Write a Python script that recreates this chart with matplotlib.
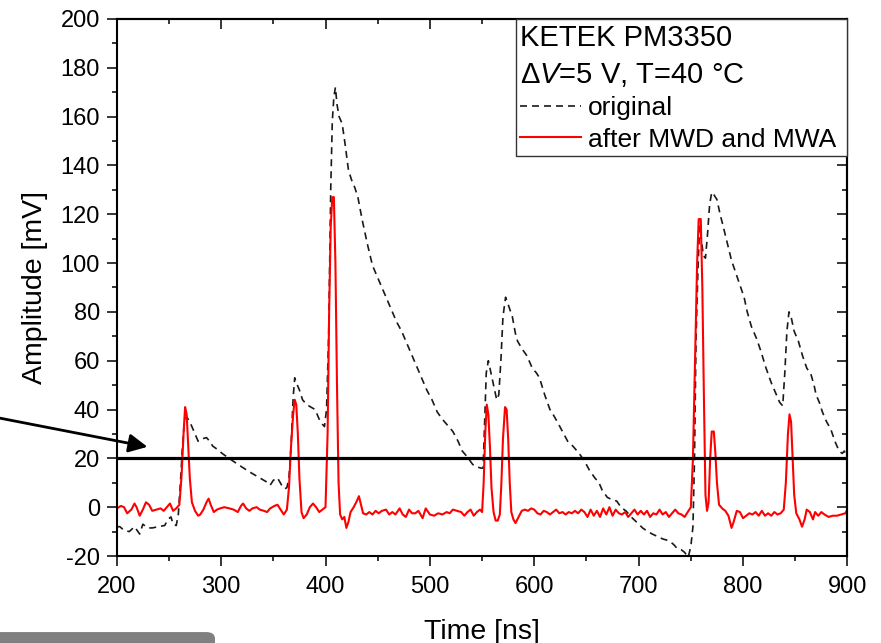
import matplotlib
matplotlib.use("Agg")
import matplotlib.pyplot as plt
from matplotlib.ticker import MultipleLocator
from matplotlib.patches import FancyBboxPatch

plt.rcParams["font.family"] = ["Liberation Sans", "DejaVu Sans"]
plt.rcParams["mathtext.fontset"] = "custom"
plt.rcParams["mathtext.rm"] = "Liberation Sans"
plt.rcParams["mathtext.it"] = "Liberation Sans:italic"
plt.rcParams["axes.unicode_minus"] = False

# --- data ------------------------------------------------------------------
# original signal (dashed black)
t_orig = [200, 203, 207, 212, 217, 222, 225, 230, 234, 240, 246, 249, 252, 254, 257,
          259, 261, 263, 265, 267, 270, 274, 278, 282, 286, 289, 292, 297, 301, 306,
          311, 318, 327, 335, 343, 347, 350, 354, 358, 361, 363, 365, 367, 369, 370.5,
          372, 375, 378, 382, 386, 390, 394, 397, 399, 401, 403, 405, 406.5, 408,
          409.5, 411, 413, 416, 419, 422, 425, 428, 431, 435, 440, 445, 449, 454, 459,
          464, 468, 473, 478, 483, 488, 493, 497, 502, 507, 512, 517, 522, 527, 531,
          536, 541, 545, 549, 551, 552.5, 554, 556, 558, 561, 564, 566, 568, 570,
          572.5, 575, 579, 582, 584, 588, 593, 598, 602, 605, 610, 615, 618, 622, 627,
          632, 637, 643, 648, 653, 658, 662, 665, 670, 675, 679, 683, 688, 694, 699,
          704, 709, 713, 718, 723, 727, 730, 734, 737, 741, 744, 747.5, 750, 752,
          753.5, 755, 757, 758.5, 760, 762, 764, 766, 768, 770, 772, 775, 778, 781,
          785, 789, 793, 797, 801, 804, 808, 813, 817, 822, 827, 832, 835, 838, 840,
          842, 844, 846, 849, 853, 857, 861, 865, 868, 870, 873, 876, 880, 884, 888,
          892, 895, 897, 900]
v_orig = [-8, -8, -9.5, -10, -8, -11, -7, -8.5, -8.5, -8, -7.5, -5, -4, -7, -7.5,
          -3, 10, 25, 36, 37, 35, 31, 27, 28, 28.5, 27, 25, 23.5, 22, 20.5,
          19, 17, 14.5, 12.5, 10.5, 9, 11, 12, 9, 7.5, 8, 12, 25, 45, 53,
          51, 48, 44, 42, 41, 40, 36, 34, 33, 40, 70, 130, 158, 168,
          172, 165, 160, 157, 148, 138, 134, 131, 127, 118, 108, 99, 95, 90, 85,
          80, 76, 72, 67, 62, 57, 52, 48, 44, 39, 36, 33.5, 31, 27, 23,
          20.5, 17.5, 16.5, 16, 16, 35, 55, 60, 56, 50, 44, 46, 60, 78,
          86, 83, 78, 71, 68, 65, 62, 57, 55, 53, 46, 40, 38, 35, 31,
          27, 25, 22, 19, 15, 12, 10, 7, 4, 3, 2.5, 0, -1.6, -4.5, -6.5,
          -8.6, -10, -11, -12, -13, -13.5, -14, -15.5, -17, -17.5, -18.5, -20.5, -16, -8,
          20, 70, 100, 115, 110, 103, 102, 112, 124, 129, 128, 126, 120, 115,
          108, 101, 96, 91, 86, 80, 74, 69, 64, 57, 51, 46, 43, 41.5, 55,
          72, 80, 78, 72, 68, 62, 57, 54.5, 50, 46, 43, 39, 35, 32, 27,
          23, 22, 23, 20]

# after MWD and MWA (solid red)
t_mwd = [200, 204, 207, 210, 214, 217, 219, 222, 225, 228, 231, 234, 238, 242, 245,
         248, 251, 254, 257, 260, 262, 264, 265.5, 267, 268.5, 270, 272, 275, 278,
         280, 283, 286, 288, 290, 293, 296, 299, 303, 308, 312, 316, 319, 321, 324,
         327, 330, 334, 337, 341, 344, 347, 351, 354, 357, 360, 363, 365, 367, 369,
         370.5, 372, 373.5, 375, 377, 379, 382, 385, 388, 391, 394, 397, 400, 402,
         403.5, 405, 406.5, 408, 409.5, 411, 412.5, 414, 416, 418, 420, 422, 424,
         427, 430, 432, 434, 436, 439, 442, 445, 448, 451, 454, 458, 461, 464, 467,
         471, 474, 477, 480, 483, 486, 489, 493, 496, 500, 504, 508, 512, 516, 519,
         522, 526, 530, 533, 536, 539, 542, 545, 548, 550, 551.5, 553, 554.5, 556,
         557.5, 559, 561, 563, 565, 567, 568.5, 570, 572, 573.5, 575, 576.5, 578,
         580, 582, 585, 588, 591, 594, 597, 600, 603, 606, 609, 612, 615, 618, 621,
         624, 627, 630, 633, 636, 639, 642, 645, 648, 651, 654, 657, 660, 663, 666,
         669, 672, 675, 678, 681, 684, 687, 690, 693, 696, 699, 702, 705, 708, 711,
         714, 717, 720, 723, 726, 729, 732, 735, 738, 741, 744, 747, 750, 752, 754,
         756, 757.5, 759.5, 761, 762.5, 764, 765.5, 767, 768.5, 770, 772, 773.5, 775,
         777, 780, 783, 786, 789, 791, 794, 797, 800, 803, 806, 809, 812, 815, 818,
         821, 824, 827, 830, 833, 836, 839, 841, 843, 844.5, 846, 847.5, 849, 851,
         854, 856.5, 859, 861, 864, 867, 869, 872, 875, 878, 882, 886, 890, 894, 898,
         900]
v_mwd = [-0.5, 0.5, 0, -2.5, -1, 1.5, 0, -3.5, -1, 2, 1, -1.5, -1, -0.5, -1.5,
         0, 1.5, -1.5, -0.5, 1, 12, 30, 41, 38, 25, 12, 2, -1.5, -3.5,
         -3, -1, 2, 3.5, 1, -2, -1, -0.5, 0, -0.5, -1, -2, 0.5, 1.5, -0.5,
         -1.5, -0.5, 0, -1, -1.5, -2, -0.5, 0.5, 1, -1, -3, -1, 8, 25, 38,
         44, 42, 30, 12, -2, -4.5, -3, 0, 1.5, 0, -2, -1, 0, 30,
         80, 115, 127, 127, 100, 50, 10, -3, -5, -4, -8.5, -6, -2,
         0, 2.5, 4.5, 1, -2.5, -3, -2, -3, -1.5, -2.5, -1.5, -1, -3, -2, -3,
         -0.5, -3, -4, -1, -2.5, -2.5, -1.5, -4.5, -0.5, -3, -3.5, -2.5, -3, -2, -2.5,
         -1, -1.5, -2, -3.5, -2, -1, -3.5, -2, -1, -2, 10, 30, 42, 38,
         25, 8, -2, -5.5, -5.5, -3, 10, 28, 41, 40, 28, 10, -2,
         -5, -6.5, -4, -1.5, -1, -1.5, -0.5, -1, -2.5, -3, -1.5, -2, -3, -2, -1,
         -2.5, -2, -3, -2, -2.5, -1.5, -2.5, -1, -2, -4, -1, -3.5, -1.5, -4, -0.5,
         -3, 0, -3.5, -1, -2.5, -3, -2, -4, -2.5, -1, -3, -1.5, -3, -1.5, -4,
         -2.5, -3, -1, -3, -2, -4, -2.5, -1, -2.5, -3, -4, -2, 0, 20, 60,
         100, 118, 118, 90, 45, 5, -1.5, 2, 20, 31, 31, 22, 10,
         1, -0.5, -1.5, -3.5, -8.5, -6, -1.5, -2, -4.5, -3.5, -2.5, -3, -2, -3.5, -1.5,
         -3.5, -2.5, -3.5, -2, -3, -2.5, -1, 10, 30, 38, 35, 20, 5, -2.5,
         -5, -8, -5, -1, -2, -5, -2, -3.5, -2, -3, -4, -3.5, -3.5, -3, -2.5,
         -1]

threshold = 20
legend_title = "KETEK PM3350\nΔ$V$=5 V, T=40 °C"

# --- figure --------------------------------------------------------------------
fig = plt.figure(figsize=(8.81, 6.43), dpi=100)
ax = fig.add_axes([0.1325, 0.1353, 0.8294, 0.8353])

ax.plot(t_orig, v_orig, color="#1a1a1a", lw=1.2, linestyle=(0, (4.2, 3)),
        label="original")
ax.plot(t_mwd, v_mwd, color="#ff0000", lw=1.5, label="after MWD and MWA")
ax.axhline(threshold, color="k", lw=2.3)

ax.set_xlim(200, 900)
ax.set_ylim(-20, 200)
ax.xaxis.set_major_locator(MultipleLocator(100))
ax.xaxis.set_minor_locator(MultipleLocator(50))
ax.yaxis.set_major_locator(MultipleLocator(20))
ax.yaxis.set_minor_locator(MultipleLocator(10))

ax.tick_params(which="both", direction="out", width=1.1, labelsize=17)
ax.tick_params(which="major", length=7.2)
ax.tick_params(which="minor", length=3.6)
ax.tick_params(axis="x", pad=7)
ax.tick_params(axis="y", pad=5)
for s in ax.spines.values():
    s.set_linewidth(1.5)

# ticks on top / right point inwards, no labels
top = ax.secondary_xaxis("top")
top.xaxis.set_major_locator(MultipleLocator(100))
top.xaxis.set_minor_locator(MultipleLocator(50))
top.tick_params(which="both", direction="in", width=1.1, labeltop=False)
top.tick_params(which="major", length=7.2)
top.tick_params(which="minor", length=3.6)
top.spines["top"].set_linewidth(1.5)

right = ax.secondary_yaxis("right")
right.yaxis.set_major_locator(MultipleLocator(20))
right.yaxis.set_minor_locator(MultipleLocator(10))
right.tick_params(which="both", direction="in", width=1.1, labelright=False)
right.tick_params(which="major", length=7.2)
right.tick_params(which="minor", length=3.6)
right.spines["right"].set_linewidth(1.5)

ax.set_xlabel("Time [ns]", fontsize=20.5, labelpad=15)
ax.set_ylabel("Amplitude [mV]", fontsize=20.5, labelpad=9)

# legend box stretched to the width seen in the reference
leg = ax.legend(title=legend_title, loc="upper right",
                bbox_to_anchor=(0.5458, 0, 0.4542, 1), mode="expand",
                borderaxespad=0, fontsize=19, title_fontsize=21,
                alignment="left", fancybox=False, framealpha=1,
                edgecolor="#333333", handlelength=2.3, handletextpad=0.25,
                borderpad=0.18, labelspacing=0.28)
leg.get_frame().set_linewidth(1.0)
leg.get_title().set_linespacing(1.42)
leg.set_zorder(5)

# arrow pointing at the threshold line
ax.annotate("", xy=(232, 24.5), xycoords="data",
            xytext=(-0.005, 0.351), textcoords="figure fraction",
            arrowprops=dict(arrowstyle="-|>", color="k", lw=2, mutation_scale=28),
            annotation_clip=False)

# grey tab at the lower left corner
fig.patches.append(FancyBboxPatch((-0.02, -0.03), 0.264, 0.047,
                                  boxstyle="round,pad=0,rounding_size=0.01",
                                  transform=fig.transFigure, facecolor="#808080",
                                  edgecolor="none"))

fig.savefig("out.png", dpi=100)
